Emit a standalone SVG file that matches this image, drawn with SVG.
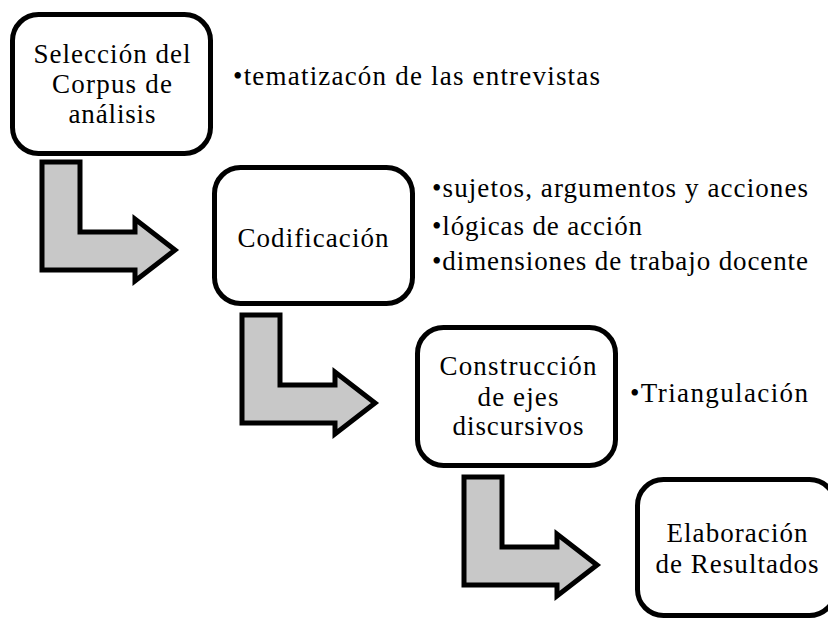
<svg xmlns="http://www.w3.org/2000/svg" xmlns:xlink="http://www.w3.org/1999/xlink" width="828" height="619" viewBox="0 0 828 619">
<style>
.box{fill:#fff;stroke:#000;stroke-width:5}
.arr{fill:#c8c8c8;stroke:#000;stroke-width:5;stroke-linejoin:miter}
.c{text-anchor:middle}
</style>
<defs>
<path id="bent" class="arr" d="M0,0 H38 V70 H93 V57 L133,88 L93,119 V108 H0 Z"/>
</defs>
<rect width="828" height="619" fill="#fff"/>
<g id="connectors">
<use xlink:href="#bent" href="#bent" x="42" y="162"/>
<use xlink:href="#bent" href="#bent" x="242" y="315"/>
<use xlink:href="#bent" href="#bent" x="464" y="477"/>
</g>
<g font-family="Liberation Serif, Times New Roman, serif" font-size="27" fill="#000">
<g id="n1">
<rect class="box" x="12.5" y="14.5" width="198" height="139" rx="26"/>
<text class="c" x="112" y="63" textLength="157">Selección del</text>
<text class="c" x="112" y="93" textLength="120">Corpus de</text>
<text class="c" x="112" y="123" textLength="87">análisis</text>
</g>
<g id="b1"><text x="233" y="85" textLength="367">•tematizacón de las entrevistas</text></g>
<g id="n2">
<rect class="box" x="214.5" y="167.5" width="198" height="136" rx="26"/>
<text class="c" x="313" y="247" textLength="151">Codificación</text>
</g>
<g id="b2">
<text x="432" y="197" textLength="376">•sujetos, argumentos y acciones</text>
<text x="432" y="235" textLength="210">•lógicas de acción</text>
<text x="432" y="270" textLength="376">•dimensiones de trabajo docente</text>
</g>
<g id="n3">
<rect class="box" x="417.5" y="327.5" width="198" height="138" rx="26"/>
<text class="c" x="518" y="375" textLength="157">Construcción</text>
<text class="c" x="518" y="406" textLength="81">de ejes</text>
<text class="c" x="518" y="435" textLength="131">discursivos</text>
</g>
<g id="b3"><text x="630" y="402" textLength="178">•Triangulación</text></g>
<g id="n4">
<rect class="box" x="637.5" y="479.5" width="198" height="136" rx="26"/>
<text class="c" x="737" y="542" textLength="141">Elaboración</text>
<text class="c" x="737" y="573" textLength="163">de Resultados</text>
</g>
</g>
</svg>
